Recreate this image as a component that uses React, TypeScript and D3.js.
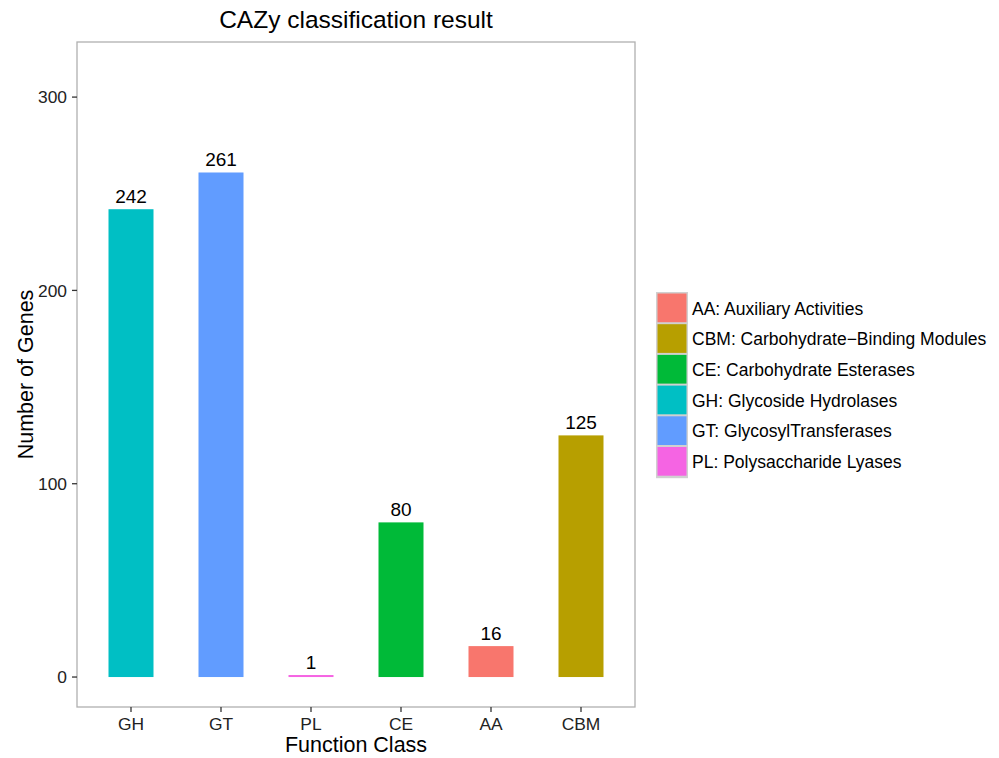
import React from "react";
import * as d3 from "d3";

const categories = ["GH", "GT", "PL", "CE", "AA", "CBM"];
const counts = [242, 261, 1, 80, 16, 125];
const yTicks = [0, 100, 200, 300];
const legendKeys = ["AA", "CBM", "CE", "GH", "GT", "PL"];
const legendLabels = [
  "AA: Auxiliary Activities",
  "CBM: Carbohydrate\u2212Binding Modules",
  "CE: Carbohydrate Esterases",
  "GH: Glycoside Hydrolases",
  "GT: GlycosylTransferases",
  "PL: Polysaccharide Lyases",
];
const colorRange = ["#F8766D", "#B79F00", "#00BA38", "#00BFC4", "#619CFF", "#F564E3"];

const W = 999, H = 758;
const panel = { left: 77, right: 635, top: 42, bottom: 707 };
const font = "'Liberation Sans', Arial, sans-serif";

export default function App() {
  const x = d3.scalePoint<string>()
    .domain(categories)
    .range([panel.left, panel.right])
    .padding(0.6);
  const bw = x.step() * 0.5;
  const y = d3.scaleLinear().domain([-15.5, 328.5]).range([panel.bottom, panel.top]);
  const color = d3.scaleOrdinal<string, string>().domain(legendKeys).range(colorRange);
  const midX = (panel.left + panel.right) / 2;
  const midY = (panel.top + panel.bottom) / 2;

  const legX = 656, legY = 292, keyW = 32, keyH = 30.7;

  return (
    <svg width={W} height={H} style={{ position: "absolute", left: 0, top: 0, background: "#fff" }} fontFamily={font}>
      <text x={midX} y={28} textAnchor="middle" fontSize={24.5} fill="#000">CAZy classification result</text>
      {categories.map((c, i) => (
        <g key={c}>
          <rect x={(x(c) as number) - bw / 2} y={Math.min(y(counts[i]), y(0) - 2)} width={bw}
            height={Math.max(y(0) - y(counts[i]), 2)} fill={color(c)} />
          <text x={x(c)} y={y(counts[i]) - 6} textAnchor="middle" fontSize={19} fill="#000">{counts[i]}</text>
        </g>
      ))}
      <rect x={panel.left} y={panel.top} width={panel.right - panel.left} height={panel.bottom - panel.top}
        fill="none" stroke="#b0b0b0" strokeWidth={1.3} />
      {yTicks.map(t => (
        <g key={t}>
          <line x1={panel.left - 5} x2={panel.left} y1={y(t)} y2={y(t)} stroke="#333" strokeWidth={1.3} />
          <text x={panel.left - 10} y={y(t)} dy="0.36em" textAnchor="end" fontSize={17.4} fill="#222">{t}</text>
        </g>
      ))}
      {categories.map(c => (
        <g key={c}>
          <line x1={x(c)} x2={x(c)} y1={panel.bottom} y2={panel.bottom + 5} stroke="#333" strokeWidth={1.3} />
          <text x={x(c)} y={730} textAnchor="middle" fontSize={17.4} fill="#222">{c}</text>
        </g>
      ))}
      <text x={midX} y={752} textAnchor="middle" fontSize={21.5} fill="#000">Function Class</text>
      <text transform={`translate(33,${midY}) rotate(-90)`} textAnchor="middle" fontSize={21.5} fill="#000">Number of Genes</text>
      <rect x={legX} y={legY} width={keyW} height={keyH * 6 + 2} fill="#d0d0d0" />
      {legendKeys.map((k, i) => (
        <g key={k}>
          <rect x={legX + 1.5} y={legY + 1.5 + i * keyH} width={keyW - 3} height={keyH - 2} fill={color(k)} />
          <text x={legX + keyW + 4} y={legY + keyH / 2 + 1 + i * keyH} dy="0.36em" fontSize={17.5} fill="#000">{legendLabels[i]}</text>
        </g>
      ))}
    </svg>
  );
}
